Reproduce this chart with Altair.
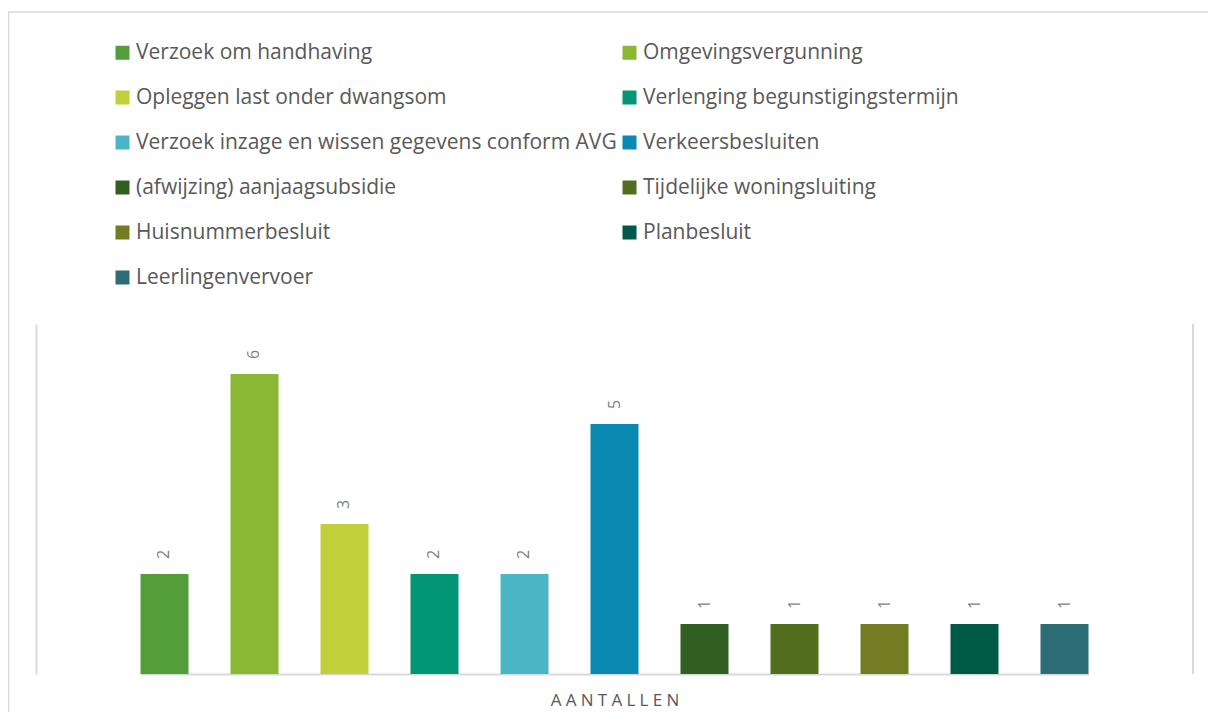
import altair as alt
import pandas as pd

categories = [
    "Verzoek om handhaving",
    "Omgevingsvergunning",
    "Opleggen last onder dwangsom",
    "Verlenging begunstigingstermijn",
    "Verzoek inzage en wissen gegevens conform AVG",
    "Verkeersbesluiten",
    "(afwijzing) aanjaagsubsidie",
    "Tijdelijke woningsluiting",
    "Huisnummerbesluit",
    "Planbesluit",
    "Leerlingenvervoer",
]
values = [2, 6, 3, 2, 2, 5, 1, 1, 1, 1, 1]
colors = [
    "#549E39", "#8AB833", "#C0CF3A", "#029676", "#4AB5C4", "#0989B1",
    "#325F22", "#536E1F", "#737C23", "#015A47", "#2C6D76",
]
axis_title = "AANTALLEN"

df = pd.DataFrame({"cat": categories, "val": values})

FONT = "Open Sans"
GRID = "#D9D9D9"
W, H = 1157, 350

spaced_title = "\u2005".join(axis_title)

x_enc = alt.X(
    "cat:N",
    sort=categories,
    scale=alt.Scale(paddingInner=0.4667, paddingOuter=0, range=[104.5, 1052.5]),
    axis=alt.Axis(
        title=spaced_title, labels=False, ticks=False,
        domainColor=GRID, domainWidth=2,
        titleFont=FONT, titleFontSize=17, titleFontWeight="normal",
        titleColor="#595959", titlePadding=18,
    ),
)
y_enc = alt.Y(
    "val:Q",
    scale=alt.Scale(domain=[0, 7], nice=False),
    axis=alt.Axis(title=None, labels=False, ticks=False, grid=False,
                  domainColor=GRID, domainWidth=2),
)

bars = alt.Chart(df).mark_bar().encode(
    x=x_enc,
    y=y_enc,
    color=alt.Color(
        "cat:N",
        sort=categories,
        scale=alt.Scale(domain=categories, range=colors),
        legend=alt.Legend(
            title=None, orient="none", legendX=76, legendY=-282,
            direction="horizontal", columns=2,
            symbolType="square", symbolSize=196,
            symbolStrokeWidth=0, symbolOpacity=1,
            labelFont=FONT, labelFontSize=21, labelColor="#595959",
            labelLimit=800, rowPadding=23, columnPadding=2, labelOffset=3,
            padding=0,
        ),
    ),
)

labels = alt.Chart(df).mark_text(
    angle=270, align="left", baseline="middle", dx=15,
    font=FONT, fontSize=16, color="#7F7F7F",
).encode(x=x_enc, y=y_enc, text="val:Q")

one = pd.DataFrame({"a": [0]})
right_line = alt.Chart(one).mark_rule(color=GRID, strokeWidth=2).encode(
    x=alt.value(W), y=alt.value(0), y2=alt.value(H)
)
outer_left = alt.Chart(one).mark_rule(color=GRID, strokeWidth=1.5).encode(
    x=alt.value(-27.5), y=alt.value(-312), y2=alt.value(H + 60)
)
outer_top = alt.Chart(one).mark_rule(color=GRID, strokeWidth=1.5).encode(
    x=alt.value(-28), x2=alt.value(W + 60), y=alt.value(-312)
)

chart = alt.layer(bars, labels, right_line, outer_left, outer_top).properties(
    width=W, height=H,
    autosize=alt.AutoSizeParams(type="none"),
    padding={"left": 28, "top": 316, "right": 15, "bottom": 38},
).configure(background="white").configure_view(strokeWidth=0)

chart.save("out.html", embed_options={"renderer": "svg", "actions": False})
